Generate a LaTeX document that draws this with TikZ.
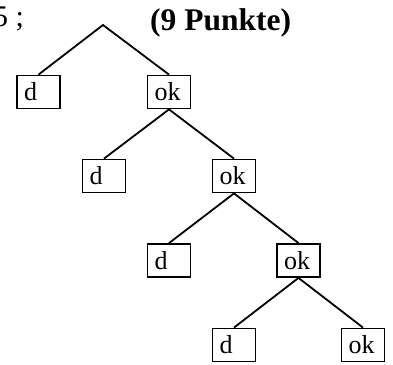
\documentclass[tikz,border=0pt]{standalone}
\usepackage{fontspec}
\setmainfont{Liberation Serif}
\begin{document}
\begin{tikzpicture}[x=1pt,y=-1pt,
  leaf/.style={draw,line width=1.8pt,minimum width=43pt,minimum height=33pt,
    inner xsep=7pt,text width=29pt,align=left,
    font=\fontsize{26}{28}\selectfont},
  edge/.style={line width=1.8pt},
  head/.style={inner sep=0pt,anchor=base west,font=\fontsize{30}{34}\selectfont}]
\useasboundingbox (0,0) rectangle (393,364);
% heading
\node[head] (num) at (-7,26) {5 ;};
\node[head,font=\fontsize{31.5}{34}\selectfont\bfseries] (pts) at (150,30) {(9 Punkte)};
% tree
\coordinate (root) at (103,25);
\node[leaf] (d1)  at (38.5,92)  {d};
\node[leaf] (ok1) at (169,92)   {ok};
\node[leaf] (d2)  at (104,176)  {d};
\node[leaf] (ok2) at (234,176)  {ok};
\node[leaf] (d3)  at (169,260.5) {d};
\node[leaf] (ok3) at (298.5,260.5) {ok};
\node[leaf] (d4)  at (234,345)  {d};
\node[leaf] (ok4) at (363,345)  {ok};
\draw[edge] (d1.north) -- (root) -- (ok1.north);
\draw[edge] (d2.north) -- (ok1.south) -- (ok2.north);
\draw[edge] (d3.north) -- (ok2.south) -- (ok3.north);
\draw[edge] (d4.north) -- (ok3.south) -- (ok4.north);
\end{tikzpicture}
\end{document}
